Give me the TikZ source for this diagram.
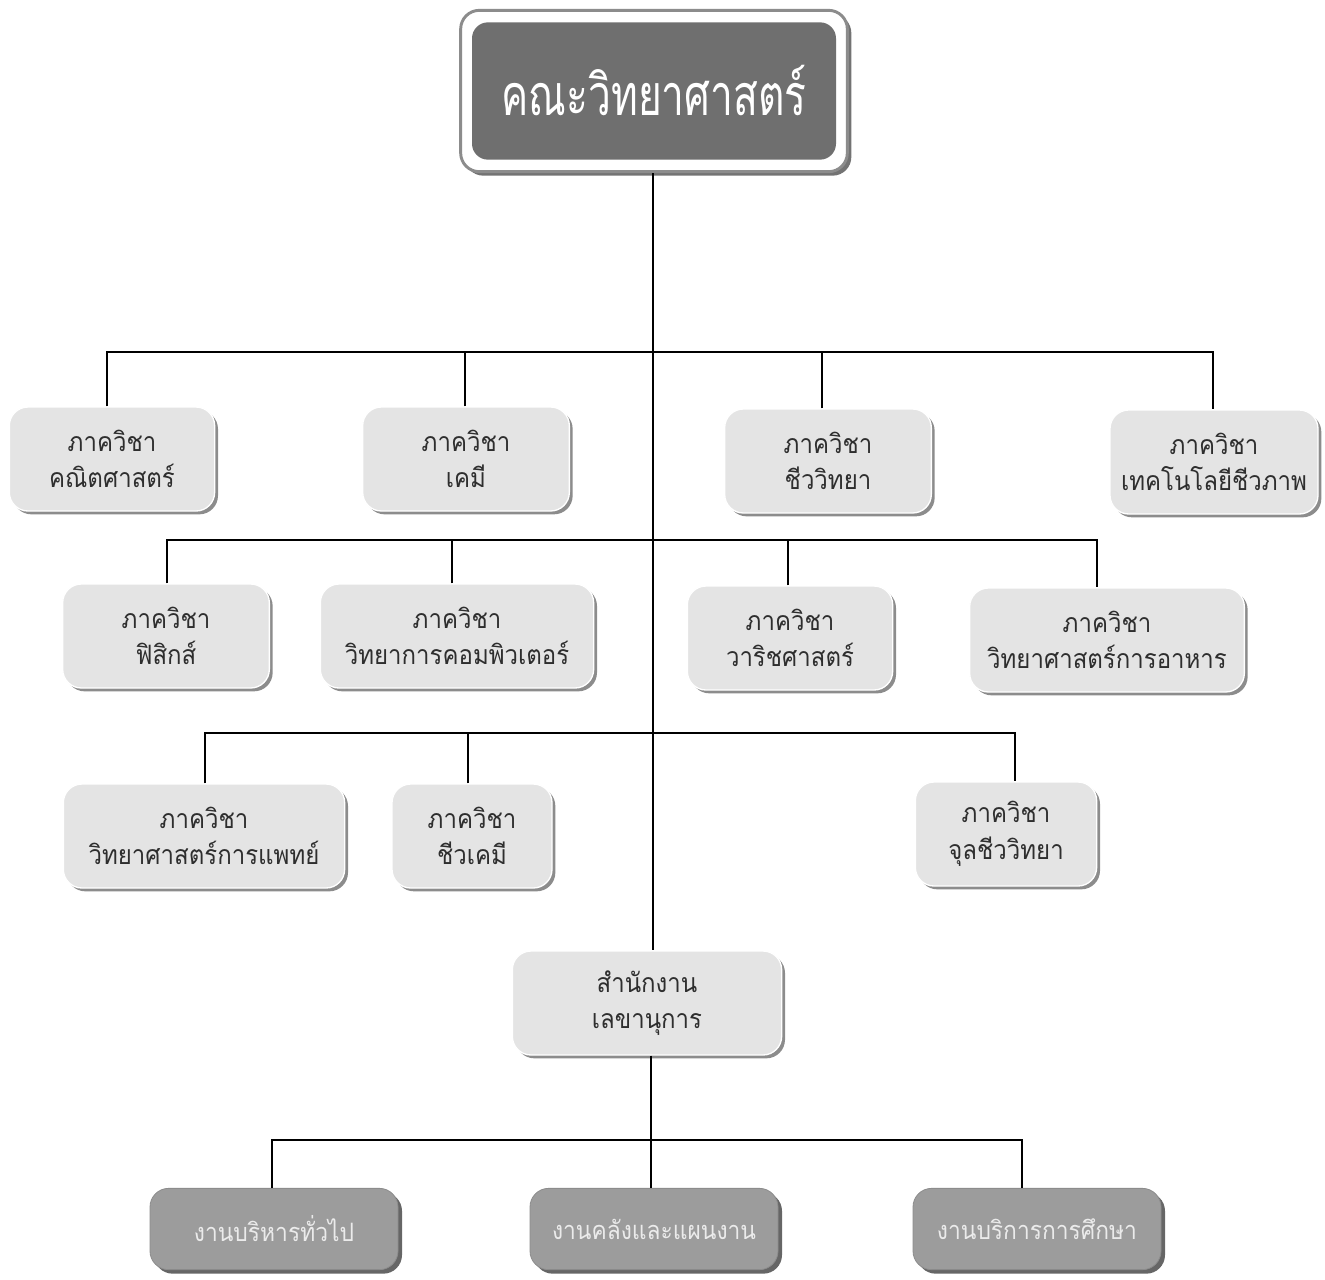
\documentclass[tikz,border=0pt]{standalone}
\usepackage{fontspec}
\newfontfamily\thai[Script=Thai,FakeStretch=0.9]{Loma}
\newfontfamily\thaitop[Script=Thai,FakeStretch=0.71]{Loma}
\usetikzlibrary{shadows}
\definecolor{boxfill}{HTML}{E4E4E4}
\definecolor{boxtext}{HTML}{2E2E2E}
\definecolor{topfill}{HTML}{6F6F6F}
\definecolor{botfill}{HTML}{9C9C9C}
\definecolor{bottext}{HTML}{EBEBEB}
\tikzset{
  dept/.style={rectangle, rounded corners=14pt, fill=boxfill, draw=white, line width=1pt,
    text=boxtext, font=\thai\fontsize{20pt}{27.5pt}\selectfont, align=center,
    minimum height=78pt, inner sep=0pt,
    drop shadow={shadow xshift=2.5pt, shadow yshift=-2.5pt, fill=black, opacity=0.45}},
  unit/.style={rectangle, rounded corners=14pt, fill=botfill, draw=botfill!90!black, line width=0.6pt,
    text=bottext, font=\thai\fontsize{19pt}{24pt}\selectfont, align=center,
    minimum width=186pt, minimum height=61pt, inner sep=0pt,
    drop shadow={shadow xshift=3pt, shadow yshift=-3pt, fill=black, opacity=0.6}},
  conn/.style={line width=1.5pt, black}
}
\begin{document}
\begin{tikzpicture}[x=0.75pt,y=-0.75pt]
\useasboundingbox[fill=white] (0,0) rectangle (1325,1279);
% top
\node[rectangle, rounded corners=14pt, fill=white, draw=black!45, line width=2.2pt,
  minimum width=290pt, minimum height=121pt, inner sep=0pt,
  drop shadow={shadow xshift=3pt, shadow yshift=-3pt, fill=black, opacity=0.55}] (topo) at (654,91) {};
\node[rectangle, rounded corners=12pt, fill=topfill, text=white,
  minimum width=273pt, minimum height=103pt, inner sep=0pt,
  font=\thaitop\fontsize{43pt}{50pt}\selectfont] (top) at (654,91) {คณะวิทยาศาสตร์};
% row 1
\node[dept, minimum width=154pt] (math) at (112,459) {ภาควิชา\\คณิตศาสตร์};
\node[dept, minimum width=155pt] (chem) at (466,459) {ภาควิชา\\เคมี};
\node[dept, minimum width=155pt] (bio) at (828,461) {ภาควิชา\\ชีววิทยา};
\node[dept, minimum width=156pt] (btech) at (1214,462) {ภาควิชา\\เทคโนโลยีชีวภาพ};
% row 2
\node[dept, minimum width=155pt] (phys) at (166,636) {ภาควิชา\\ฟิสิกส์};
\node[dept, minimum width=205pt] (comp) at (457,636) {ภาควิชา\\วิทยาการคอมพิวเตอร์};
\node[dept, minimum width=154pt] (mar) at (790,638) {ภาควิชา\\วาริชศาสตร์};
\node[dept, minimum width=206pt] (food) at (1107,640) {ภาควิชา\\วิทยาศาสตร์การอาหาร};
% row 3
\node[dept, minimum width=211pt] (med) at (204,836) {ภาควิชา\\วิทยาศาสตร์การแพทย์};
\node[dept, minimum width=120pt] (bchem) at (472,836) {ภาควิชา\\ชีวเคมี};
\node[dept, minimum width=136pt] (micro) at (1006,834) {ภาควิชา\\จุลชีววิทยา};
% secretary
\node[dept, minimum width=202pt] (secr) at (647,1003) {สำนักงาน\\เลขานุการ};
% bottom
\node[unit] (gen) at (274,1229) {งานบริหารทั่วไป};
\node[unit] (fin) at (654,1229) {งานคลังและแผนงาน};
\node[unit] (edu) at (1037,1229) {งานบริการการศึกษา};
% buses
\coordinate (b1) at (653,352);
\coordinate (b2) at (653,540);
\coordinate (b3) at (653,733);
\coordinate (b4) at (651,1140);
\begin{scope}[conn]
\draw (topo.south -| b1) -- (secr.north -| b1);
\draw (math.north -| 107,0) -- (107,352) -- (1213,352) -- (btech.north -| 1213,0);
\draw (chem.north -| 465,0) -- (465,352);
\draw (bio.north -| 822,0) -- (822,352);
\draw (phys.north -| 167,0) -- (167,540) -- (1097,540) -- (food.north -| 1097,0);
\draw (comp.north -| 452,0) -- (452,540);
\draw (mar.north -| 788,0) -- (788,540);
\draw (med.north -| 205,0) -- (205,733) -- (1015,733) -- (micro.north -| 1015,0);
\draw (bchem.north -| 468,0) -- (468,733);
\draw (secr.south -| b4) -- (b4);
\draw (gen.north -| 272,0) -- (272,1140) -- (1022,1140) -- (edu.north -| 1022,0);
\draw (fin.north -| b4) -- (b4);
\end{scope}
\end{tikzpicture}
\end{document}
